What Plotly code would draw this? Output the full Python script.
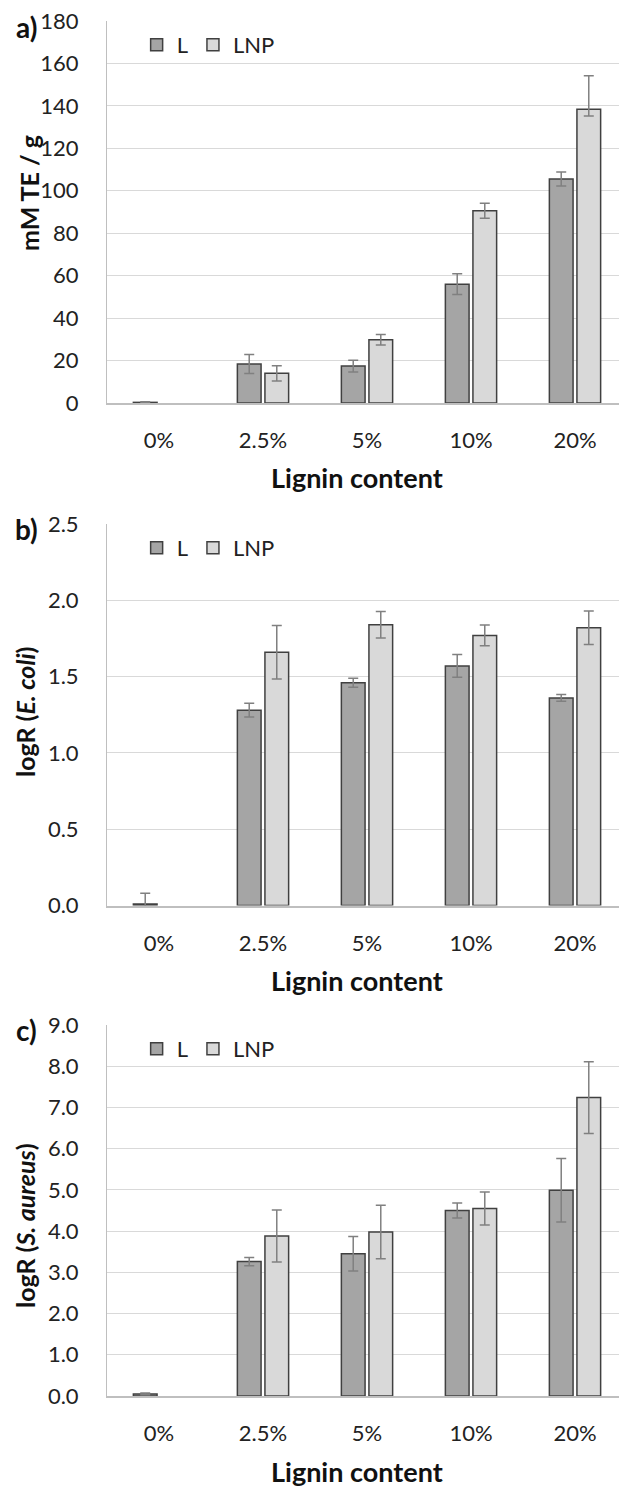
import plotly.graph_objects as go
from plotly.subplots import make_subplots

categories = ["0%", "2.5%", "5%", "10%", "20%"]

a_L = [0.3, 18.4, 17.4, 56.0, 105.5]
a_L_err = [0.3, 4.5, 2.8, 4.9, 3.3]
a_LNP = [None, 14.0, 29.8, 90.6, 138.4]
a_LNP_err_plus = [None, 3.6, 2.5, 3.5, 15.8]
a_LNP_err_minus = [None, 3.6, 2.5, 3.5, 3.2]

b_L = [0.01, 1.28, 1.46, 1.57, 1.36]
b_L_err = [0.07, 0.045, 0.03, 0.075, 0.022]
b_LNP = [None, 1.66, 1.84, 1.77, 1.82]
b_LNP_err = [None, 0.175, 0.087, 0.068, 0.11]

c_L = [0.05, 3.26, 3.45, 4.50, 4.99]
c_L_err = [0.02, 0.10, 0.42, 0.18, 0.77]
c_LNP = [None, 3.88, 3.98, 4.55, 7.24]
c_LNP_err = [None, 0.63, 0.65, 0.40, 0.87]

panels = [
    dict(L=a_L, Lp=a_L_err, Lm=a_L_err, N=a_LNP, Np=a_LNP_err_plus, Nm=a_LNP_err_minus,
         rng=[0, 180], dtick=20, fmt="d", title="<b>mM TE / g</b>", label="a)",
         top=21, bot=403, ytc=193, ytx=29, labely=27),
    dict(L=b_L, Lp=b_L_err, Lm=b_L_err, N=b_LNP, Np=b_LNP_err, Nm=b_LNP_err,
         rng=[0, 2.5], dtick=0.5, fmt=".1f", title="<b>logR (<i>E. coli</i>)</b>", label="b)",
         top=524, bot=905.5, ytc=712, ytx=25, labely=529),
    dict(L=c_L, Lp=c_L_err, Lm=c_L_err, N=c_LNP, Np=c_LNP_err, Nm=c_LNP_err,
         rng=[0, 9], dtick=1, fmt=".1f", title="<b>logR (<i>S. aureus</i>)</b>", label="c)",
         top=1025, bot=1396, ytc=1226, ytx=25, labely=1030),
]

W, H = 627, 1499
OFF = 8            # page body margin offset
LEFT = 107         # plot left edge in window pixels
PW = 520           # plot width
FONT = "Lato"
L_COL = "#a5a5a5"
N_COL = "#d9d9d9"
EDGE = "#404040"
ERR = "#808080"
TXT = "#222222"

fig = make_subplots(rows=3, cols=1)

def py(px):
    return 1 - (px - OFF) / H

def pxx(px):
    return (px - LEFT) / PW

annotations = []
for i, p in enumerate(panels, start=1):
    leg = "legend" if i == 1 else f"legend{i}"
    fig.add_trace(go.Bar(
        x=categories, y=p["L"], name="L", legend=leg,
        marker=dict(color=L_COL, line=dict(color=EDGE, width=1.5)),
        error_y=dict(type="data", array=p["Lp"], arrayminus=p["Lm"], symmetric=False,
                     color=ERR, thickness=1.5, width=5),
    ), row=i, col=1)
    fig.add_trace(go.Bar(
        x=categories, y=p["N"], name="LNP", legend=leg,
        marker=dict(color=N_COL, line=dict(color=EDGE, width=1.5)),
        error_y=dict(type="data", array=p["Np"], arrayminus=p["Nm"], symmetric=False,
                     color=ERR, thickness=1.5, width=5),
    ), row=i, col=1)
    ya = "yaxis" if i == 1 else f"yaxis{i}"
    xa = "xaxis" if i == 1 else f"xaxis{i}"
    fig.update_layout(**{
        ya: dict(domain=[py(p["bot"]), py(p["top"])], range=p["rng"], dtick=p["dtick"],
                 tickformat=p["fmt"], showgrid=True, gridcolor="#d9d9d9", gridwidth=1,
                 zeroline=False, showline=True, linecolor="#bfbfbf", linewidth=1,
                 ticks="", ticklabelstandoff=23, automargin=False, ticklabeloverflow="allow",
                 tickfont=dict(family=FONT, size=22, color=TXT)),
        xa: dict(domain=[0, 1], showline=True, linecolor="#bfbfbf", linewidth=1.5,
                 ticks="", ticklabelstandoff=17, showgrid=False, automargin=False,
                 ticklabeloverflow="allow",
                 tickfont=dict(family=FONT, size=22, color=TXT)),
        leg: dict(orientation="h", x=0.057, xanchor="left", y=py(p["top"] + 24), yanchor="middle",
                  font=dict(family=FONT, size=22, color=TXT), bgcolor="rgba(0,0,0,0)",
                  tracegroupgap=0),
    })
    annotations.append(dict(text=p["title"], x=pxx(p["ytx"]), y=py(p["ytc"]), xref="paper", yref="paper",
                            textangle=-90, showarrow=False, xanchor="center", yanchor="middle",
                            font=dict(family=FONT, size=25, color="#111111")))
    annotations.append(dict(text="<b>Lignin content</b>", x=pxx(357), y=py(p["bot"] + 75),
                            xref="paper", yref="paper", showarrow=False, xanchor="center",
                            yanchor="middle", font=dict(family=FONT, size=27, color="#111111")))
    annotations.append(dict(text="<b>" + p["label"] + "</b>", x=pxx(26), y=py(p["labely"]),
                            xref="paper", yref="paper", showarrow=False, xanchor="center",
                            yanchor="middle", font=dict(family=FONT, size=28, color="#111111")))

fig.update_layout(
    width=W, height=H,
    margin=dict(l=LEFT - OFF, r=W - (LEFT - OFF) - PW, t=0, b=0, autoexpand=False),
    paper_bgcolor="white", plot_bgcolor="white",
    barmode="group", bargap=0.47, bargroupgap=0.14,
    annotations=annotations,
    showlegend=True,
    font=dict(family=FONT),
)

fig.write_html("out.html")
